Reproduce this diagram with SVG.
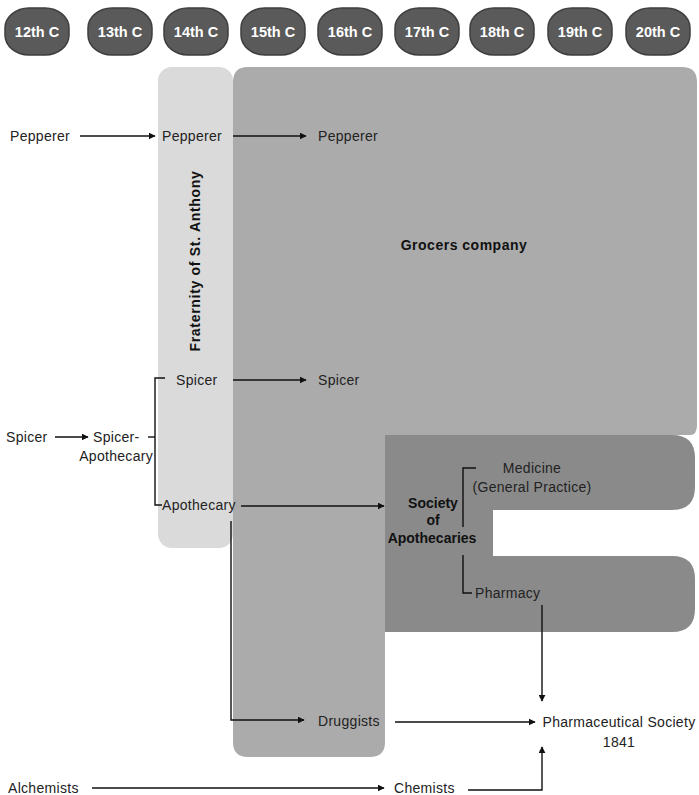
<svg xmlns="http://www.w3.org/2000/svg" width="699" height="795" viewBox="0 0 699 795">
<defs>
<style>
.c{fill:#5a5a5a;stroke:#3e3e3e;stroke-width:1.5}
.ct{font-family:"Liberation Sans",Arial,sans-serif;font-size:14.5px;font-weight:bold;fill:#fff;text-anchor:middle}
.t{font-family:"Liberation Sans",Arial,sans-serif;font-size:14px;fill:#222;letter-spacing:0.3px}
.b{font-family:"Liberation Sans",Arial,sans-serif;font-size:14px;font-weight:bold;fill:#111}
.m{text-anchor:middle}
.l{fill:none;stroke:#111;stroke-width:1.4}
.a{fill:none;stroke:#111;stroke-width:1.4;marker-end:url(#ah)}
</style>
<marker id="ah" viewBox="0 0 10 10" refX="9" refY="5" markerWidth="7" markerHeight="7" markerUnits="userSpaceOnUse" orient="auto">
<path d="M0,0 L10,5 L0,10 Z" fill="#111"/>
</marker>
</defs>
<rect width="699" height="795" fill="#fff"/>
<g id="centuries">
<g id="c12"><rect class="c" x="5" y="8" width="64" height="47" rx="24" ry="20"/><text class="ct" x="37" y="37">12th C</text></g>
<g id="c13"><rect class="c" x="88" y="8" width="64" height="47" rx="24" ry="20"/><text class="ct" x="120" y="37">13th C</text></g>
<g id="c14"><rect class="c" x="164" y="8" width="64" height="47" rx="24" ry="20"/><text class="ct" x="196" y="37">14th C</text></g>
<g id="c15"><rect class="c" x="241" y="8" width="64" height="47" rx="24" ry="20"/><text class="ct" x="273" y="37">15th C</text></g>
<g id="c16"><rect class="c" x="318" y="8" width="64" height="47" rx="24" ry="20"/><text class="ct" x="350" y="37">16th C</text></g>
<g id="c17"><rect class="c" x="395" y="8" width="64" height="47" rx="24" ry="20"/><text class="ct" x="427" y="37">17th C</text></g>
<g id="c18"><rect class="c" x="470" y="8" width="64" height="47" rx="24" ry="20"/><text class="ct" x="502" y="37">18th C</text></g>
<g id="c19"><rect class="c" x="548" y="8" width="64" height="47" rx="24" ry="20"/><text class="ct" x="580" y="37">19th C</text></g>
<g id="c20"><rect class="c" x="626" y="8" width="64" height="47" rx="24" ry="20"/><text class="ct" x="658" y="37">20th C</text></g>
</g>
<g id="fraternity">
<rect x="158" y="67" width="75" height="481" rx="14" fill="#dadada"/>
<text class="b" transform="translate(200,261) rotate(-90)" text-anchor="middle" letter-spacing="0.7">Fraternity of St. Anthony</text>
</g>
<g id="grocers">
<path d="M248,67 H682 Q697,67 697,82 V425 Q697,435 690,435 H385 V742 Q385,757 370,757 H248 Q233,757 233,742 V82 Q233,67 248,67 Z" fill="#ababab"/>
<text class="b m" x="464" y="250" letter-spacing="0.5">Grocers company</text>
</g>
<g id="society">
<path d="M385,435 H672 Q695,435 695,458 V487 Q695,510 672,510 H493 V556 H672 Q695,556 695,579 V609 Q695,632 672,632 H385 Z" fill="#8a8a8a"/>
<text class="b m" x="433" y="508">Society</text>
<text class="b m" x="433" y="525">of</text>
<text class="b m" x="432" y="543">Apothecaries</text>
</g>
<g id="labels">
<text class="t" x="10" y="141">Pepperer</text>
<text class="t" x="162" y="141">Pepperer</text>
<text class="t" x="318" y="141">Pepperer</text>
<text class="t" x="176" y="385">Spicer</text>
<text class="t" x="318" y="385">Spicer</text>
<text class="t" x="6" y="442">Spicer</text>
<text class="t" x="93" y="442">Spicer-</text>
<text class="t" x="153" y="461" text-anchor="end">Apothecary</text>
<text class="t" x="162" y="510">Apothecary</text>
<text class="t" x="532" y="473" text-anchor="middle">Medicine</text>
<text class="t" x="532" y="492" text-anchor="middle">(General Practice)</text>
<text class="t" x="475" y="598">Pharmacy</text>
<text class="t" x="318" y="726">Druggists</text>
<text class="t" x="619" y="727" text-anchor="middle">Pharmaceutical Society</text>
<text class="t" x="619" y="747" text-anchor="middle">1841</text>
<text class="t" x="8" y="793">Alchemists</text>
<text class="t" x="394" y="793">Chemists</text>
</g>
<g id="connectors">
<line class="a" x1="80" y1="136" x2="155" y2="136"/>
<line class="a" x1="233" y1="136" x2="306" y2="136"/>
<line class="a" x1="233" y1="380" x2="306" y2="380"/>
<line class="a" x1="55" y1="437" x2="88" y2="437"/>
<polyline class="l" points="165,378 155,378 155,505 162,505"/>
<line class="l" x1="148" y1="437" x2="155" y2="437"/>
<line class="a" x1="241" y1="506" x2="384" y2="506"/>
<polyline class="a" points="231,521 231,720 304,720"/>
<line class="a" x1="395" y1="722" x2="535" y2="722"/>
<polyline class="l" points="476,468 463,468 463,527"/>
<polyline class="l" points="463,555 463,593 472,593"/>
<line class="a" x1="542" y1="605" x2="542" y2="701"/>
<line class="a" x1="92" y1="788" x2="384" y2="788"/>
<polyline class="a" points="468,790 542,790 542,747"/>
</g>
</svg>
